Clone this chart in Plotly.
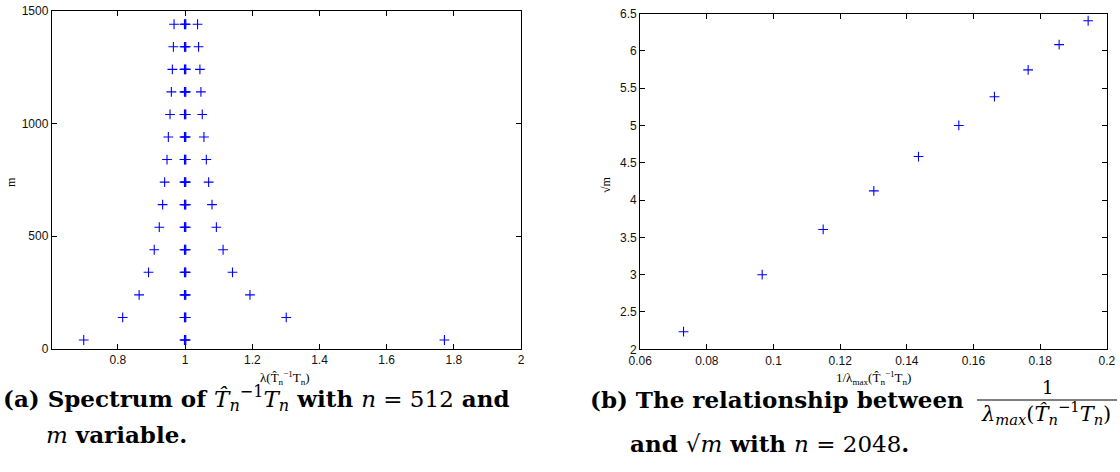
import plotly.graph_objects as go

# ---------------- data ----------------
# Panel (a): spectrum rows, one row per m value
m_rows = [40, 140, 240, 340, 440, 540, 640, 740, 840, 940, 1040, 1140, 1240, 1340, 1440]
lam_low = [0.698, 0.814, 0.863, 0.891, 0.908, 0.923, 0.933, 0.939, 0.946, 0.950, 0.955, 0.959, 0.962, 0.965, 0.967]
lam_high = [1.772, 1.301, 1.193, 1.141, 1.113, 1.093, 1.080, 1.070, 1.063, 1.056, 1.051, 1.047, 1.044, 1.040, 1.037]
lam_center = [0.998, 1.000, 1.002]   # clustered eigenvalues near 1 (overlapping marks)

# Panel (b)
inv_lmax = [0.0730, 0.0966, 0.1149, 0.1301, 0.1435, 0.1556, 0.1663, 0.1764, 0.1857, 0.1944]
sqrt_m = [2.236, 3.000, 3.606, 4.123, 4.583, 5.000, 5.385, 5.745, 6.083, 6.403]

# tick labels
xa_ticks = [0.8, 1, 1.2, 1.4, 1.6, 1.8, 2]
xa_labels = ["0.8", "1", "1.2", "1.4", "1.6", "1.8", "2"]
ya_ticks = [0, 500, 1000, 1500]
xb_ticks = [0.06, 0.08, 0.1, 0.12, 0.14, 0.16, 0.18, 0.2]
xb_labels = ["0.06", "0.08", "0.1", "0.12", "0.14", "0.16", "0.18", "0.2"]
yb_ticks = [2, 2.5, 3, 3.5, 4, 4.5, 5, 5.5, 6, 6.5]
yb_labels = ["2", "2.5", "3", "3.5", "4", "4.5", "5", "5.5", "6", "6.5"]

# ---------------- figure ----------------
W, H = 1120, 472
BLUE = "#0000ff"

xa, ya = [], []
for m, lo, hi in zip(m_rows, lam_low, lam_high):
    xa += [lo, hi] + lam_center
    ya += [m, m] + [m] * len(lam_center)

marker = dict(symbol="cross-thin", size=7, color=BLUE, line=dict(color=BLUE, width=1.1))

fig = go.Figure()
fig.add_trace(go.Scatter(x=xa, y=ya, mode="markers", marker=marker, xaxis="x", yaxis="y", showlegend=False))
fig.add_trace(go.Scatter(x=inv_lmax, y=sqrt_m, mode="markers", marker=marker, xaxis="x2", yaxis="y2", showlegend=False))

axis_common = dict(showgrid=False, zeroline=False, showline=True, linecolor="black", linewidth=1,
                   mirror="ticks", ticks="inside", ticklen=5, tickcolor="black", tickwidth=1,
                   automargin=False, ticklabeloverflow="allow",
                   tickfont=dict(family="Liberation Sans, Arial", size=12, color="#111"))

def px(x):
    return x / W

def py(y):
    return 1 - y / H

fig.update_layout(
    width=W, height=H, margin=dict(l=0, r=0, t=0, b=0, autoexpand=False),
    paper_bgcolor="white", plot_bgcolor="white",
    xaxis=dict(domain=[px(51.8), px(521.0)], range=[0.603, 2], tickvals=xa_ticks, ticktext=xa_labels,
               anchor="y", **axis_common),
    yaxis=dict(domain=[py(349), py(10.7)], range=[0, 1500], tickvals=ya_ticks, anchor="x", **axis_common),
    xaxis2=dict(domain=[px(640.2), px(1106.8)], range=[0.06, 0.2], tickvals=xb_ticks, ticktext=xb_labels,
                anchor="y2", **axis_common),
    yaxis2=dict(domain=[py(349.3), py(13.5)], range=[2, 6.5], tickvals=yb_ticks, ticktext=yb_labels,
                anchor="x2", **axis_common),
)

serif = "DejaVu Serif, Liberation Serif, serif"
small_serif = "Liberation Serif, DejaVu Serif, serif"
ann = []
def add(text, x, y, size, xanchor="left", textangle=0, family=serif):
    ann.append(dict(text=text, x=px(x), y=py(y), xref="paper", yref="paper", xanchor=xanchor,
                    yanchor="middle", showarrow=False, textangle=textangle,
                    font=dict(family=family, size=size, color="black")))

# axis titles (small serif)
add("λ(T̂<sub>n</sub><sup>−1</sup>T<sub>n</sub>)", 285, 378, 13, xanchor="center", family=small_serif)
add("1/λ<sub>max</sub>(T̂<sub>n</sub><sup>−1</sup>T<sub>n</sub>)", 873, 378, 13, xanchor="center",
    family=small_serif)
add("m", 11, 182, 12, xanchor="center", textangle=-90, family=small_serif)
add("√m", 606, 185, 12, xanchor="center", textangle=-90, family=small_serif)

# captions
cap = 23
add("<b>(a) Spectrum of </b><i>T̂</i><sub><i>n</i></sub><sup>−1</sup><i>T</i><sub><i>n</i></sub>"
    "<b> with </b><i>n</i> = 512<b> and</b>", 1, 398, cap)
add("<i>m</i><b> variable.</b>", 44, 434, cap)
add("<b>(b) The relationship between</b>", 588, 399, cap)
add("1", 1047, 387, 18, xanchor="center")
add("<i>λ<sub>max</sub></i>(<i>T̂</i><sub><i>n</i></sub><sup>−1</sup><i>T</i><sub><i>n</i></sub>)", 1046, 413, 21,
    xanchor="center")
add("<b>and </b>√<i>m</i><b> with </b><i>n</i> = 2048<b>.</b>", 628, 443, cap)

fig.update_layout(annotations=ann)
fig.add_shape(type="line", xref="paper", yref="paper", x0=px(977), x1=px(1117), y0=py(400), y1=py(400),
              line=dict(color="black", width=1))

# place the figure at the page origin (no default body margin), no mode bar
fig.write_html("out.html", config={"displayModeBar": False},
               post_script="document.body.style.margin='0px';")
